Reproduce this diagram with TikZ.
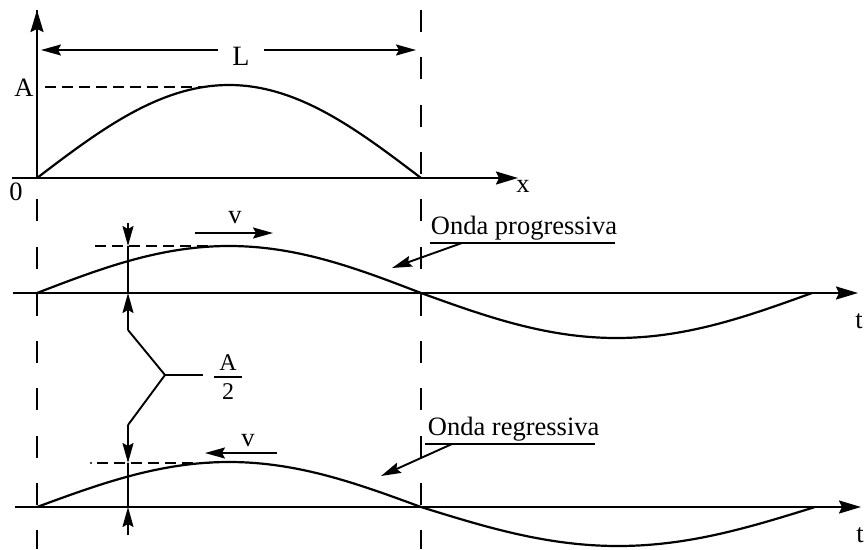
\documentclass[tikz,border=0pt]{standalone}
\usepackage{fontspec}
\setmainfont{Liberation Serif}
\usetikzlibrary{arrows.meta}
\begin{document}
\begin{tikzpicture}[x=1pt,y=-1pt,
  line width=1.9pt,
  axistip/.style={-{Stealth[length=22pt,width=13pt,inset=3pt]}},
  smalltip/.style={-{Stealth[length=20pt,width=11pt,inset=3pt]}},
  vdash/.style={line width=2.3pt,dash pattern=on 22pt off 25.3pt},
  hdash/.style={line width=2pt,dash pattern=on 11pt off 6pt},
  lbl/.style={font=\fontsize{26.5}{30}\selectfont, inner sep=0pt},
  wave/.style={line width=2.2pt},
]
\useasboundingbox (0,0) rectangle (867,549);

% vertical dashed lines
\coordinate (ltop) at (37,10);   \coordinate (lbot) at (37,549);
\coordinate (rtop) at (421,10);  \coordinate (rbot) at (421,549);
\draw[vdash] (ltop) -- (lbot);
\draw[vdash] (rtop) -- (rbot);

% ---------- top graph ----------
\coordinate (o) at (37,178);
\coordinate (ytip) at (37,10);
\coordinate (xs) at (12,178);
\coordinate (xtip) at (518,178);
\draw[axistip] (o) -- (ytip);
\draw[axistip] (xs) -- (xtip);
\node[lbl] (xl) at (523,186) {x};
\node[lbl] (zero) at (16,192) {0};
\node[lbl] (Al) at (24,88) {A};
\draw[hdash] (45,87) -- (205,87);
\draw[wave] plot[domain=37:421,samples=80,smooth] (\x,{178-93*sin((\x-37)/384*180)});

% L dimension
\node[lbl, font=\fontsize{28}{32}\selectfont] (L) at (241,56) {L};
\coordinate (Lleft) at (41,50);
\coordinate (Lright) at (416,50);
\draw[smalltip] (218,50) -- (Lleft);
\draw[smalltip] (264,50) -- (Lright);

% ---------- progressive wave ----------
\coordinate (p0) at (13,293);
\coordinate (ptip) at (858,293);
\draw[axistip] (p0) -- (ptip);
\node[lbl] (t1) at (859,321) {t};
\draw[wave] plot[domain=37:421,samples=80,smooth] (\x,{293-47*sin((\x-37)/384*180)});
\draw[wave] plot[domain=421:812,samples=80,smooth] (\x,{293+45*sin((\x-421)/391*180)});
\draw[hdash] (95,246) -- (225,246);
\node[lbl] (v1) at (235,218) {v};
\coordinate (v1a) at (195,233); \coordinate (v1b) at (273,233);
\draw[smalltip] (v1a) -- (v1b);
\node[lbl, anchor=base west] (prog) at (430,234) {Onda progressiva};
\coordinate (pu1) at (430,243); \coordinate (pu2) at (615,243);
\draw (pu1) -- (pu2);
\coordinate (pl0) at (462,243); \coordinate (pl1) at (392,268);
\draw[smalltip] (pl0) -- (pl1);

% ---------- regressive wave ----------
\coordinate (r0) at (15,507);
\coordinate (rtipx) at (861,507);
\draw[axistip] (r0) -- (rtipx);
\node[lbl] (t2) at (860,535) {t};
\draw[wave] plot[domain=37:421,samples=80,smooth] (\x,{507-45*sin((\x-37)/384*180)});
\draw[wave] plot[domain=421:815,samples=80,smooth] (\x,{507+39*sin((\x-421)/394*180)});
\draw[hdash] (97,463) -- (215,463);
\fill (91,463) circle (1.1pt);
\node[lbl] (v2) at (248,441) {v};
\coordinate (v2a) at (277,453); \coordinate (v2b) at (205,453);
\draw[smalltip] (v2a) -- (v2b);
\node[lbl, anchor=base west] (regr) at (427,435) {Onda regressiva};
\coordinate (ru1) at (425,444); \coordinate (ru2) at (595,444);
\draw (ru1) -- (ru2);
\coordinate (rl0) at (452,444); \coordinate (rl1) at (381,476);
\draw[smalltip] (rl0) -- (rl1);

% ---------- A/2 indicator ----------
\coordinate (a1) at (128,223); \coordinate (a2) at (128,246);
\coordinate (a3) at (128,293); \coordinate (a4) at (128,330);
\coordinate (j) at (165,375);  \coordinate (jh) at (203,375);
\coordinate (b1) at (128,425); \coordinate (b2) at (128,463);
\coordinate (b3) at (128,507); \coordinate (b4) at (128,535);
\draw[smalltip] (a1) -- (a2);
\draw (a2) -- (a3);
\draw[smalltip] (a4) -- (a3);
\draw (a4) -- (j) -- (b1);
\draw (j) -- (jh);
\draw[smalltip] (b1) -- (b2);
\draw (b2) -- (b3);
\draw[smalltip] (b4) -- (b3);
\node[lbl, font=\fontsize{24}{27}\selectfont] (fa) at (228,363) {A};
\node[lbl, font=\fontsize{24}{27}\selectfont] (f2) at (228,392) {2};
\coordinate (fb1) at (214,377); \coordinate (fb2) at (242,377);
\draw[line width=1.5pt] (fb1) -- (fb2);
\end{tikzpicture}
\end{document}
